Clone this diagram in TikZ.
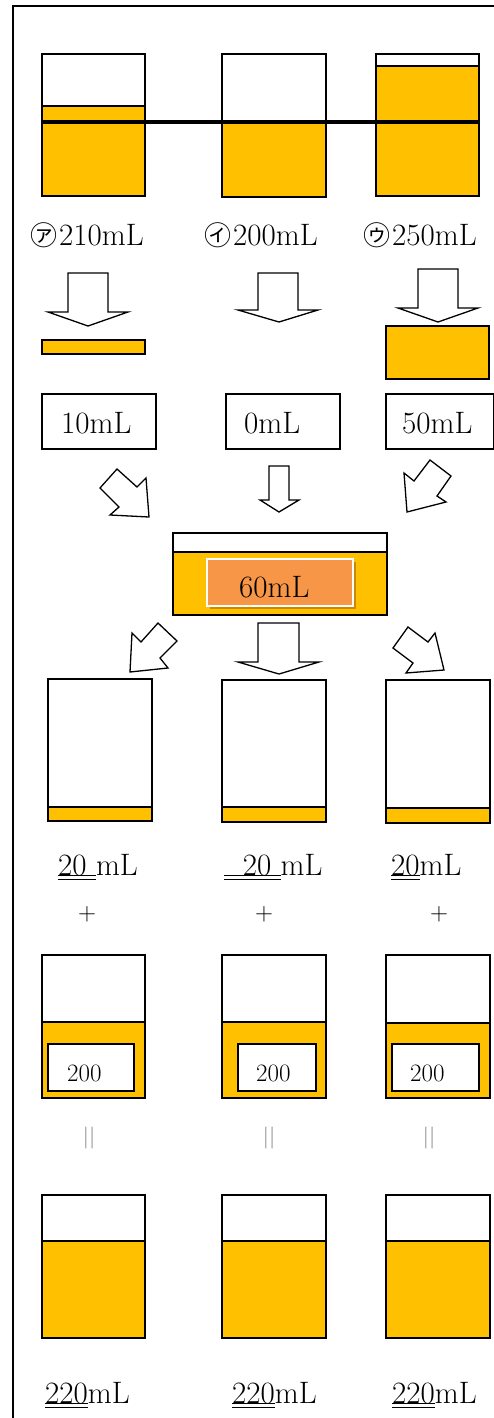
\documentclass[tikz,border=0pt]{standalone}
\usepackage{fontspec}
\newfontfamily\jpfont{Noto Sans CJK JP}
\definecolor{liquid}{HTML}{FFC000}
\definecolor{tag}{HTML}{F79646}
\definecolor{tagshadow}{HTML}{C98A00}
% double underline under a piece of text
\newcommand\dblul[1]{\setbox0\hbox{#1}\rlap{\rule[-1.2pt]{\wd0}{0.8pt}}\rlap{\rule[-4.4pt]{\wd0}{0.8pt}}\box0}
% circled katakana mark
\newcommand\kanamark[1]{{\jpfont\fontsize{27}{30}\selectfont #1}\kern2pt}
\tikzset{
  vessel/.style={draw=black,line width=1.3pt},
  blockarrow/.style={draw=black,fill=white,line width=1.3pt,line join=miter},
  lbl/.style={anchor=base west,inner sep=0pt,font=\fontsize{31}{34}\selectfont},
  small/.style={anchor=base west,inner sep=0pt,font=\fontsize{25}{28}\selectfont},
  sign/.style={inner sep=0pt,font=\fontsize{29}{32}\selectfont},
  pipes/.style={inner sep=0pt,text=gray,font=\fontsize{22}{24}\selectfont},
}
% beaker: left top right bottom liquid-level
\newcommand\beaker[5]{%
  \fill[liquid] (#1,#5) rectangle (#3,#4);
  \draw[vessel] (#1,#2) rectangle (#3,#4);
  \draw[vessel] (#1,#5) -- (#3,#5);}
% downward block arrow: shaft-left shaft-right top wing-y wing-left wing-right tip-x tip-y
\newcommand\downblock[8]{%
  \draw[blockarrow] (#1,#3) -- (#2,#3) -- (#2,#4) -- (#6,#4) -- (#7,#8) -- (#5,#4) -- (#1,#4) -- cycle;}
\begin{document}
\begin{tikzpicture}[x=1pt,y=-1pt]
\useasboundingbox (0,0) rectangle (494,1418);
% frame
\draw[line width=1.5pt] (13,1418) -- (13,6) -- (494,6);

% starting beakers and common level line
\beaker{42}{54}{145}{196}{106}
\beaker{222}{54}{326}{197}{122}
\beaker{376}{54}{479}{196}{66}
\draw[line width=3.5pt] (42,122) -- (479,122);
\node[lbl] (a) at (30,245) {\kanamark{㋐}210mL};
\node[lbl] (b) at (204,245) {\kanamark{㋑}200mL};
\node[lbl] (c) at (363,245) {\kanamark{㋒}250mL};

% removing the excess
\downblock{68}{108}{273}{312}{48}{128}{88}{326}
\downblock{258}{298}{273}{310}{238}{318}{279}{322}
\downblock{418}{458}{269}{308}{398}{478}{438}{322}
\fill[liquid] (42,340) rectangle (145,354);
\draw[vessel] (42,340) rectangle (145,354);
\fill[liquid] (386,326) rectangle (489,379);
\draw[vessel] (386,326) rectangle (489,379);

\draw[vessel] (42,394) rectangle (156,449);
\draw[vessel] (226,394) rectangle (340,449);
\draw[vessel] (386,394) rectangle (493.5,449);
\node[lbl] (ex1) at (61,433) {10mL};
\node[lbl] (ex2) at (244,433) {0mL};
\node[lbl] (ex3) at (402,433) {50mL};

% collecting the excess
\draw[blockarrow] (100,488) -- (117,469) -- (137,487) -- (146,478) -- (149,517) -- (110,515) -- (119,507) -- cycle;
\downblock{269}{289}{466}{500}{260}{299}{279}{512}
\draw[blockarrow] (430,460) -- (451,476) -- (437,496) -- (446,502) -- (407,512) -- (404,473) -- (414,481) -- cycle;

\beaker{173}{533}{387}{615}{552}
\fill[tagshadow] (210,562) rectangle (356,609);
\draw[white,fill=tag,line width=1.5pt] (207,559) rectangle (353,606);
\node[lbl] (sum) at (239,597) {60mL};

% sharing it out
\draw[blockarrow] (158,623) -- (177,641) -- (160,658) -- (168,668) -- (130,672) -- (132,633) -- (141,642) -- cycle;
\downblock{258}{299}{623}{662}{238}{319}{279}{674}
\draw[blockarrow] (408,627) -- (428,642) -- (435,633) -- (444,670) -- (406,673) -- (413,663) -- (393,648) -- cycle;

\beaker{48}{679}{152}{821}{807}
\beaker{222}{680}{326}{822}{807}
\beaker{386}{680}{490}{823}{808}
\node[lbl] (s1) at (58,875) {\dblul{20\ }mL};
\node[lbl] (s2) at (224,875) {\dblul{\ \ 20\ }mL};
\node[lbl] (s3) at (391,875) {\dblul{20}mL};

\node[sign] (p1) at (87,914) {$+$};
\node[sign] (p2) at (264,914) {$+$};
\node[sign] (p3) at (439,914) {$+$};

% equal shares
\beaker{42}{955}{145}{1098}{1022}
\beaker{222}{955}{326}{1098}{1022}
\beaker{386}{955}{490}{1098}{1023}
\draw[vessel,fill=white] (48,1044) rectangle (134,1091);
\draw[vessel,fill=white] (238,1044) rectangle (316,1091);
\draw[vessel,fill=white] (392,1044) rectangle (479,1091);
\node[small] (e1) at (67,1081) {200};
\node[small] (e2) at (256,1081) {200};
\node[small] (e3) at (410,1081) {200};

\node[pipes] (q1) at (89,1138) {||};
\node[pipes] (q2) at (269,1138) {||};
\node[pipes] (q3) at (429,1138) {||};

% results
\beaker{42}{1195}{145}{1338}{1241}
\beaker{222}{1195}{326}{1338}{1241}
\beaker{386}{1195}{490}{1338}{1241}
\node[lbl] (r1) at (45,1403) {\dblul{220}mL};
\node[lbl] (r2) at (232,1403) {\dblul{220}mL};
\node[lbl] (r3) at (392,1403) {\dblul{220}mL};
\end{tikzpicture}
\end{document}
